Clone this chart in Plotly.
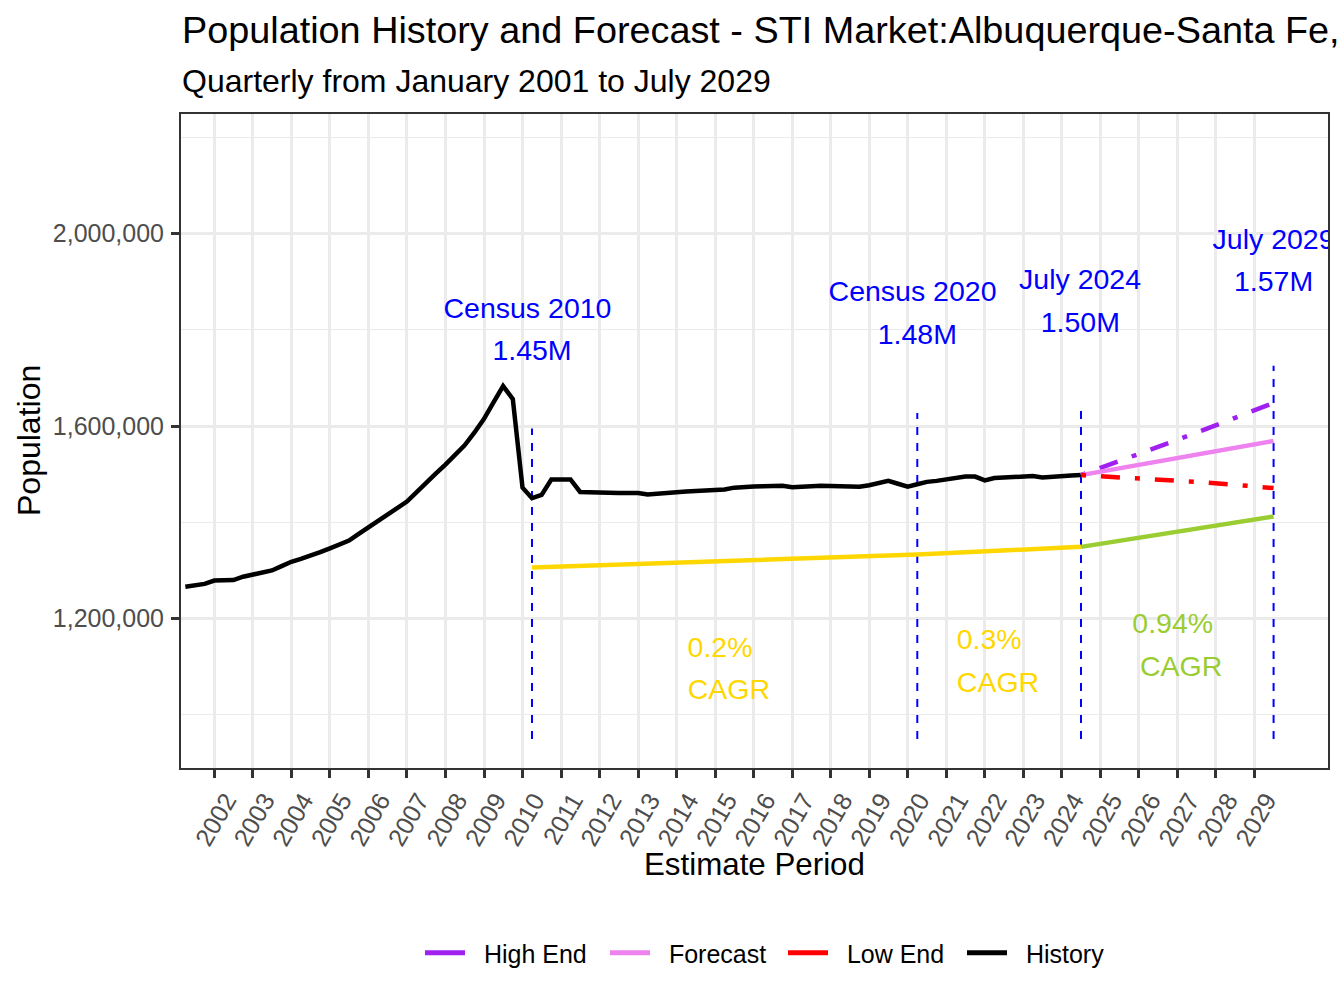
import pandas as pd
import plotly.graph_objects as go

# ---- data ----
hist_dates = pd.date_range("2001-04-01", "2024-07-01", freq="QS")
hist_pop = [
    1266000, 1269000, 1272000,
    1279000, 1280000, 1280000, 1287000,
    1291000, 1295000, 1300000, 1309000,
    1318000, 1324000, 1330000, 1338000,
    1346000, 1354000, 1362000, 1376000,
    1389000, 1403000, 1416000, 1430000,
    1443000, 1462000, 1480000, 1501000,
    1520000, 1540000, 1560000, 1586000,
    1615000, 1649000, 1683000, 1656000,
    1472000, 1450000, 1457000, 1489000,
    1490000, 1489000, 1463000, 1462000,
    1461000, 1461000, 1461000, 1461000,
    1461000, 1458000, 1460000, 1462000,
    1463000, 1464000, 1465000, 1465500,
    1466500, 1468000, 1472000, 1474000,
    1474500, 1475000, 1475500, 1476000,
    1473000, 1474500, 1476000, 1476000,
    1475500, 1475000, 1474500, 1474000,
    1477000, 1482000, 1486000, 1480000,
    1474000, 1479000, 1484000, 1486000,
    1489000, 1492000, 1495000, 1495000,
    1487000, 1492000, 1493000, 1494000,
    1495000, 1496000, 1493000, 1495000,
    1496000, 1497000, 1498000,
]

fc_dates = ["2024-07-01", "2025-07-01", "2026-07-01", "2027-07-01", "2028-07-01", "2029-07-01"]
fc_pop = [1498000, 1512000, 1526000, 1540000, 1555000, 1569000]
high_pop = [1498000, 1527000, 1556000, 1586000, 1617000, 1648000]
low_pop = [1498000, 1494000, 1489000, 1484000, 1478000, 1471000]

cagr_dates = ["2010-04-01", "2020-04-01", "2024-07-01"]
cagr_pop = [1306000, 1333000, 1349000]
cagr_fc_dates = ["2024-07-01", "2029-07-01"]
cagr_fc_pop = [1349000, 1412000]

mark_dates = ["2010-04-01", "2020-04-01", "2024-07-01", "2029-07-01"]
mark_low = [950000, 950000, 950000, 950000]
mark_high = [1595000, 1627000, 1632000, 1725000]

years = list(range(2002, 2030))

# text labels: (text, date, value, colour)
labels = [
    ("Census 2010", "2010-02-17", 1840000, "#0000FF"),
    ("1.45M", "2010-04-01", 1752000, "#0000FF"),
    ("Census 2020", "2020-02-16", 1875000, "#0000FF"),
    ("1.48M", "2020-04-01", 1786000, "#0000FF"),
    ("July 2024", "2024-06-22", 1899000, "#0000FF"),
    ("1.50M", "2024-06-25", 1810000, "#0000FF"),
    ("July 2029", "2029-07-01", 1982000, "#0000FF"),
    ("1.57M", "2029-07-01", 1895000, "#0000FF"),
    ("0.2%", "2015-02-17", 1134000, "#FFD700"),
    ("CAGR", "2015-05-11", 1047000, "#FFD700"),
    ("0.3%", "2022-02-12", 1151000, "#FFD700"),
    ("CAGR", "2022-05-06", 1063000, "#FFD700"),
    ("0.94%", "2026-11-18", 1184000, "#9ACD32"),
    ("CAGR", "2027-02-05", 1095000, "#9ACD32"),
]

# legend entries: (name, colour, entry width)
legend_items = [
    ("High End", "#A020F0", 130),
    ("Forecast", "#EE82EE", 123),
    ("Low End", "#FF0000", 124),
    ("History", "#000000", 110),
]

FONT = "Liberation Sans, Arial, sans-serif"
W, H = 1344, 1008
L, R, T, B = 181, 16, 114, 240
PW, PH = W - L - R, H - T - B
LW = 4.5
PAD = "\u00a0\u00a0"  # gap between legend key and label


def px_x(p):
    return (p - L) / PW


def px_y(p):
    return (H - B - p) / PH


fig = go.Figure()

# vertical marker lines
vx, vy = [], []
for d, lo, hi in zip(mark_dates, mark_low, mark_high):
    vx += [d, d, None]
    vy += [lo, hi, None]
fig.add_trace(go.Scatter(x=vx, y=vy, mode="lines", showlegend=False, hoverinfo="skip",
                         line=dict(color="#0000FF", width=2, dash="8px,8px")))

fig.add_trace(go.Scatter(x=cagr_dates, y=cagr_pop, mode="lines", showlegend=False,
                         line=dict(color="#FFD700", width=LW)))
fig.add_trace(go.Scatter(x=cagr_fc_dates, y=cagr_fc_pop, mode="lines", showlegend=False,
                         line=dict(color="#9ACD32", width=LW)))

fig.add_trace(go.Scatter(x=hist_dates, y=hist_pop, mode="lines", name="History", showlegend=False,
                         line=dict(color="#000000", width=LW)))
fig.add_trace(go.Scatter(x=fc_dates, y=high_pop, mode="lines", name="High End", showlegend=False,
                         line=dict(color="#A020F0", width=LW, dash="5px,15px,19px,15px")))
fig.add_trace(go.Scatter(x=fc_dates, y=fc_pop, mode="lines", name="Forecast", showlegend=False,
                         line=dict(color="#EE82EE", width=LW)))
fig.add_trace(go.Scatter(x=fc_dates, y=low_pop, mode="lines", name="Low End", showlegend=False,
                         line=dict(color="#FF0000", width=LW, dash="5px,15px,19px,15px")))

# legend keys drawn solid, as in the reference
for name, c, ew in legend_items:
    fig.add_trace(go.Scatter(x=[None], y=[None], mode="lines", name=PAD + name, legendwidth=ew,
                             line=dict(color=c, width=5)))

for txt, d, v, c in labels:
    fig.add_trace(go.Scatter(x=[d], y=[v], mode="text", text=[txt], showlegend=False,
                             textposition="middle center", cliponaxis=True, hoverinfo="skip",
                             textfont=dict(family=FONT, size=28.5, color=c)))

fig.update_xaxes(
    type="date", range=["2001-02-19", "2030-11-29"], automargin=False,
    tickvals=[f"{y}-01-01" for y in years], ticktext=[str(y) for y in years],
    tickangle=-60, tickfont=dict(family=FONT, size=25, color="#4D4D4D"),
    ticklabelshift=12, ticklabelstandoff=-2,
    ticks="outside", ticklen=8, tickwidth=2.5, tickcolor="#333333",
    showgrid=True, gridcolor="#EBEBEB", gridwidth=2.7,
    showline=True, linecolor="#333333", linewidth=2, mirror=True, zeroline=False,
)
fig.update_yaxes(
    range=[889700, 2248000], automargin=False,
    tickvals=[1200000, 1600000, 2000000], tickformat=",",
    tickfont=dict(family=FONT, size=25, color="#4D4D4D"),
    ticks="outside", ticklen=8, tickwidth=2.5, tickcolor="#333333", ticklabelstandoff=2,
    showgrid=True, gridcolor="#EBEBEB", gridwidth=2.7,
    minor=dict(tickvals=[1000000, 1400000, 1800000, 2200000], showgrid=True,
               gridcolor="#EBEBEB", gridwidth=1.3, ticks=""),
    showline=True, linecolor="#333333", linewidth=2, mirror=True, zeroline=False,
)

fig.update_layout(
    width=W, height=H,
    margin=dict(l=L, r=R, t=T, b=B),
    paper_bgcolor="white", plot_bgcolor="white",
    font=dict(family=FONT, color="#000000"),
    legend=dict(orientation="h", x=px_x(420), xanchor="left", y=px_y(953), yanchor="middle",
                font=dict(family=FONT, size=25, color="#000000"), itemwidth=40),
    annotations=[
        dict(text="Population History and Forecast - STI Market:Albuquerque-Santa Fe,",
             xref="paper", yref="paper", x=px_x(180), y=px_y(30.4), xanchor="left", yanchor="middle",
             showarrow=False, font=dict(family=FONT, size=37.8, color="#000000")),
        dict(text="Quarterly from January 2001 to July 2029",
             xref="paper", yref="paper", x=px_x(180), y=px_y(81), xanchor="left", yanchor="middle",
             showarrow=False, font=dict(family=FONT, size=32, color="#000000")),
        dict(text="Estimate Period", xref="paper", yref="paper", x=px_x(754), y=px_y(864),
             xanchor="center", yanchor="middle", showarrow=False,
             font=dict(family=FONT, size=31.3, color="#000000")),
        dict(text="Population", xref="paper", yref="paper", x=px_x(29), y=px_y(441),
             xanchor="center", yanchor="middle", textangle=-90, showarrow=False,
             font=dict(family=FONT, size=32, color="#000000")),
    ],
)

fig.write_html("out.html", config={"displayModeBar": False},
               post_script="document.body.style.margin='0px';")
